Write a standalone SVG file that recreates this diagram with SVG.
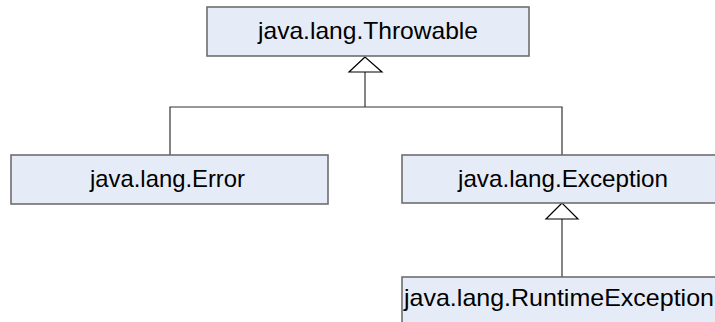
<svg xmlns="http://www.w3.org/2000/svg" width="715" height="322" viewBox="0 0 715 322">
<style>
.box{fill:#e6ecf7;stroke:#6e6e6e;stroke-width:1.6}
.lbl{font-family:"Liberation Sans",Arial,sans-serif;font-size:24px;fill:#000;text-anchor:start}
.conn{stroke:#333;stroke-width:1.2;fill:none}
.tri{fill:#fff;stroke:#000;stroke-width:1.2}
</style>
<rect width="715" height="322" fill="#fff"/>
<g id="connectors">
<polyline class="conn" points="365,72 365,107"/>
<polyline class="conn" points="170,155 170,107 562,107 562,155"/>
<polygon class="tri" points="365,57 349,72 382,72"/>
<polyline class="conn" points="562,219 562,277"/>
<polygon class="tri" points="562,203 546,219 578,219"/>
</g>
<g id="throwable">
<rect class="box" x="207" y="7" width="322" height="49"/>
<text class="lbl" x="258" y="39" textLength="220" lengthAdjust="spacingAndGlyphs">java.lang.Throwable</text>
</g>
<g id="error">
<rect class="box" x="11" y="155" width="317" height="49"/>
<text class="lbl" x="90" y="187" textLength="155" lengthAdjust="spacingAndGlyphs">java.lang.Error</text>
</g>
<g id="exception">
<rect class="box" x="402" y="155" width="322" height="48"/>
<text class="lbl" x="458" y="187" textLength="210" lengthAdjust="spacingAndGlyphs">java.lang.Exception</text>
</g>
<g id="runtimeexception">
<rect class="box" x="402" y="277" width="322" height="60"/>
<text class="lbl" x="404" y="306" textLength="310" lengthAdjust="spacingAndGlyphs">java.lang.RuntimeException</text>
</g>
</svg>
